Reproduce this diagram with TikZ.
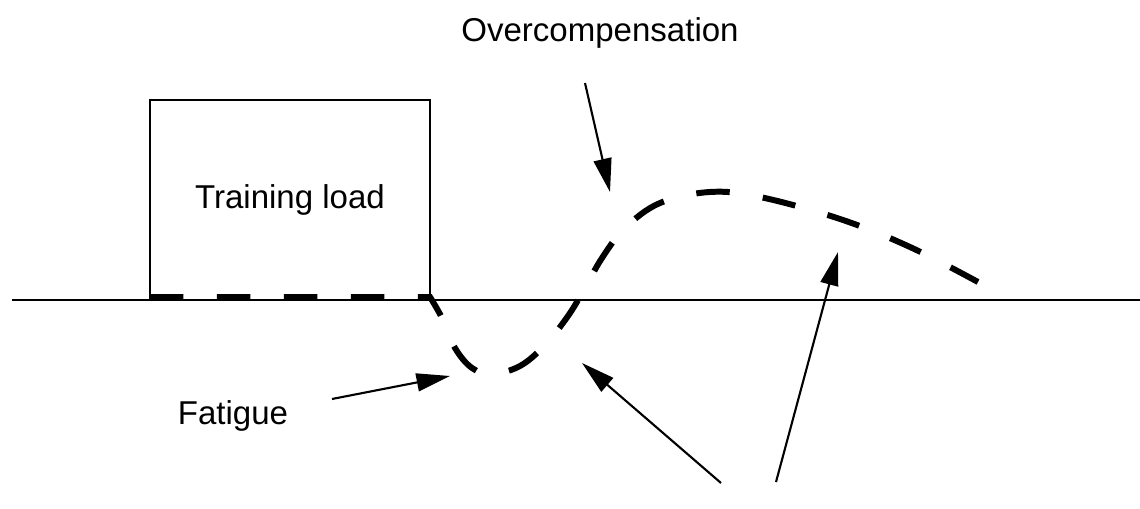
\documentclass[tikz,border=0pt]{standalone}
\usepackage{fontspec}
\setmainfont{Liberation Sans}
\usetikzlibrary{arrows.meta}
\begin{document}
\begin{tikzpicture}[x=0.02cm,y=-0.02cm,
  lbl/.style={font=\fontsize{18.8}{22}\selectfont, inner sep=0pt},
  pointer/.style={line width=1.2pt, -{Triangle[length=0.67cm,width=0.36cm]}},
  curvedash/.style={line width=3.4pt, dash pattern=on 0.67cm off 0.67cm},
  axisline/.style={line width=1.4pt}]
\useasboundingbox (0,0) rectangle (1140,509);
% axis
\coordinate (axL) at (12,300);
\coordinate (axR) at (1140,300);
\draw[axisline] (axL) -- (axR);
% training load box
\node[draw, line width=1.4pt, minimum width=5.6cm, minimum height=4cm, inner sep=0pt,
      font=\fontsize{18.8}{22}\selectfont] (box) at (290,200) {Training load};
% labels
\node[lbl, anchor=base] (over) at (600,42) {Overcompensation};
\node[lbl, anchor=base] (fat) at (233,425) {Fatigue};
% dashed curve
\coordinate (c0) at (150,297);
\coordinate (c1) at (430,297);
\draw[curvedash] (c0) -- (c1) -- plot[smooth, tension=0.6] coordinates {
  (430,297) (442,318) (455,348) (472,368) (492,374) (520,366) (545,345)
  (568,316) (585,288) (602,258) (625,228) (660,203) (710,192) (760,197)
  (840,219) (910,247) (978,282)};
% arrows
\coordinate (oT) at (585,83);
\coordinate (oH) at (610,192);
\coordinate (fT) at (332,399);
\coordinate (fH) at (450,376);
\coordinate (aT) at (721,483);
\coordinate (aH) at (582,363);
\coordinate (bT) at (776,482);
\coordinate (bH) at (838,252);
\draw[pointer] (oT) -- (oH);
\draw[pointer] (fT) -- (fH);
\draw[pointer] (aT) -- (aH);
\draw[pointer] (bT) -- (bH);
\end{tikzpicture}
\end{document}
